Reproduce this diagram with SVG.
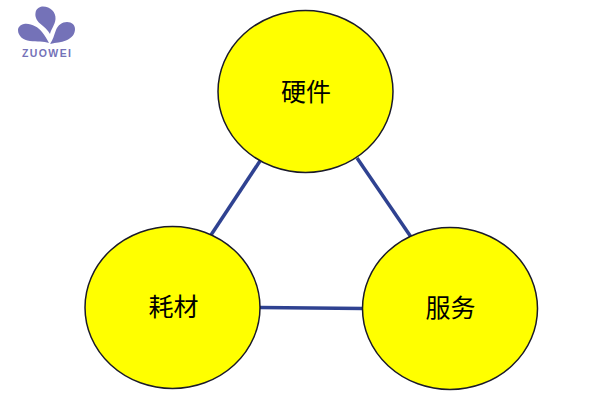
<svg xmlns="http://www.w3.org/2000/svg" width="600" height="400" viewBox="0 0 600 400">
<style>
.node{fill:#ffff00;stroke:#1a1a2a;stroke-width:1.5}
.lbl{font-family:"Noto Sans CJK SC","Noto Sans CJK JP",serif;font-size:25px;fill:#000;text-anchor:middle;font-weight:400}
.conn{stroke:#2f4291;stroke-width:3.5;fill:none}
.petal{fill:#7472b8}
</style>
<rect width="600" height="400" fill="#ffffff"/>
<g id="logo">
<path class="petal" d="M42 6.500C50 6 56 12 55.500 19C55 25 51 29 50 34C48 30 44 27 40 23.500C36 20 35 16 35.500 13C36 9 39 7 42 6.500Z"/>
<path class="petal" d="M24 24C31 23 38 27 42 32C45 36 47 39 49 43C44 41 37 42 30 41C23 40 18 36 18 30C18 27 21 24.500 24 24Z"/>
<path class="petal" d="M50 44C53 40 54 35 56 30C58 25 62 22 67 22C72 22 75 25 75 29C75 34 72 38 66 40.500C61 42.500 56 42.500 50 44Z"/>
<text x="46.500" y="57" font-family="'Liberation Sans',Arial,sans-serif" font-size="10.500" fill="#7472b8" text-anchor="middle" font-weight="700" textLength="49">ZUOWEI</text>
</g>
<g id="connectors">
<line class="conn" x1="260" y1="161" x2="211" y2="235"/>
<line class="conn" x1="357" y1="158" x2="411" y2="237"/>
<line class="conn" x1="260" y1="307.500" x2="363" y2="308.500"/>
</g>
<g id="node-hardware"><ellipse class="node" cx="305.500" cy="91.500" rx="87.500" ry="81"/><text class="lbl" x="306" y="101">硬件</text></g>
<g id="node-consumables"><ellipse class="node" cx="172.500" cy="307.500" rx="87.500" ry="81"/><text class="lbl" x="173.500" y="316">耗材</text></g>
<g id="node-service"><ellipse class="node" cx="450" cy="308.500" rx="87.500" ry="81"/><text class="lbl" x="450.500" y="317">服务</text></g>
</svg>
